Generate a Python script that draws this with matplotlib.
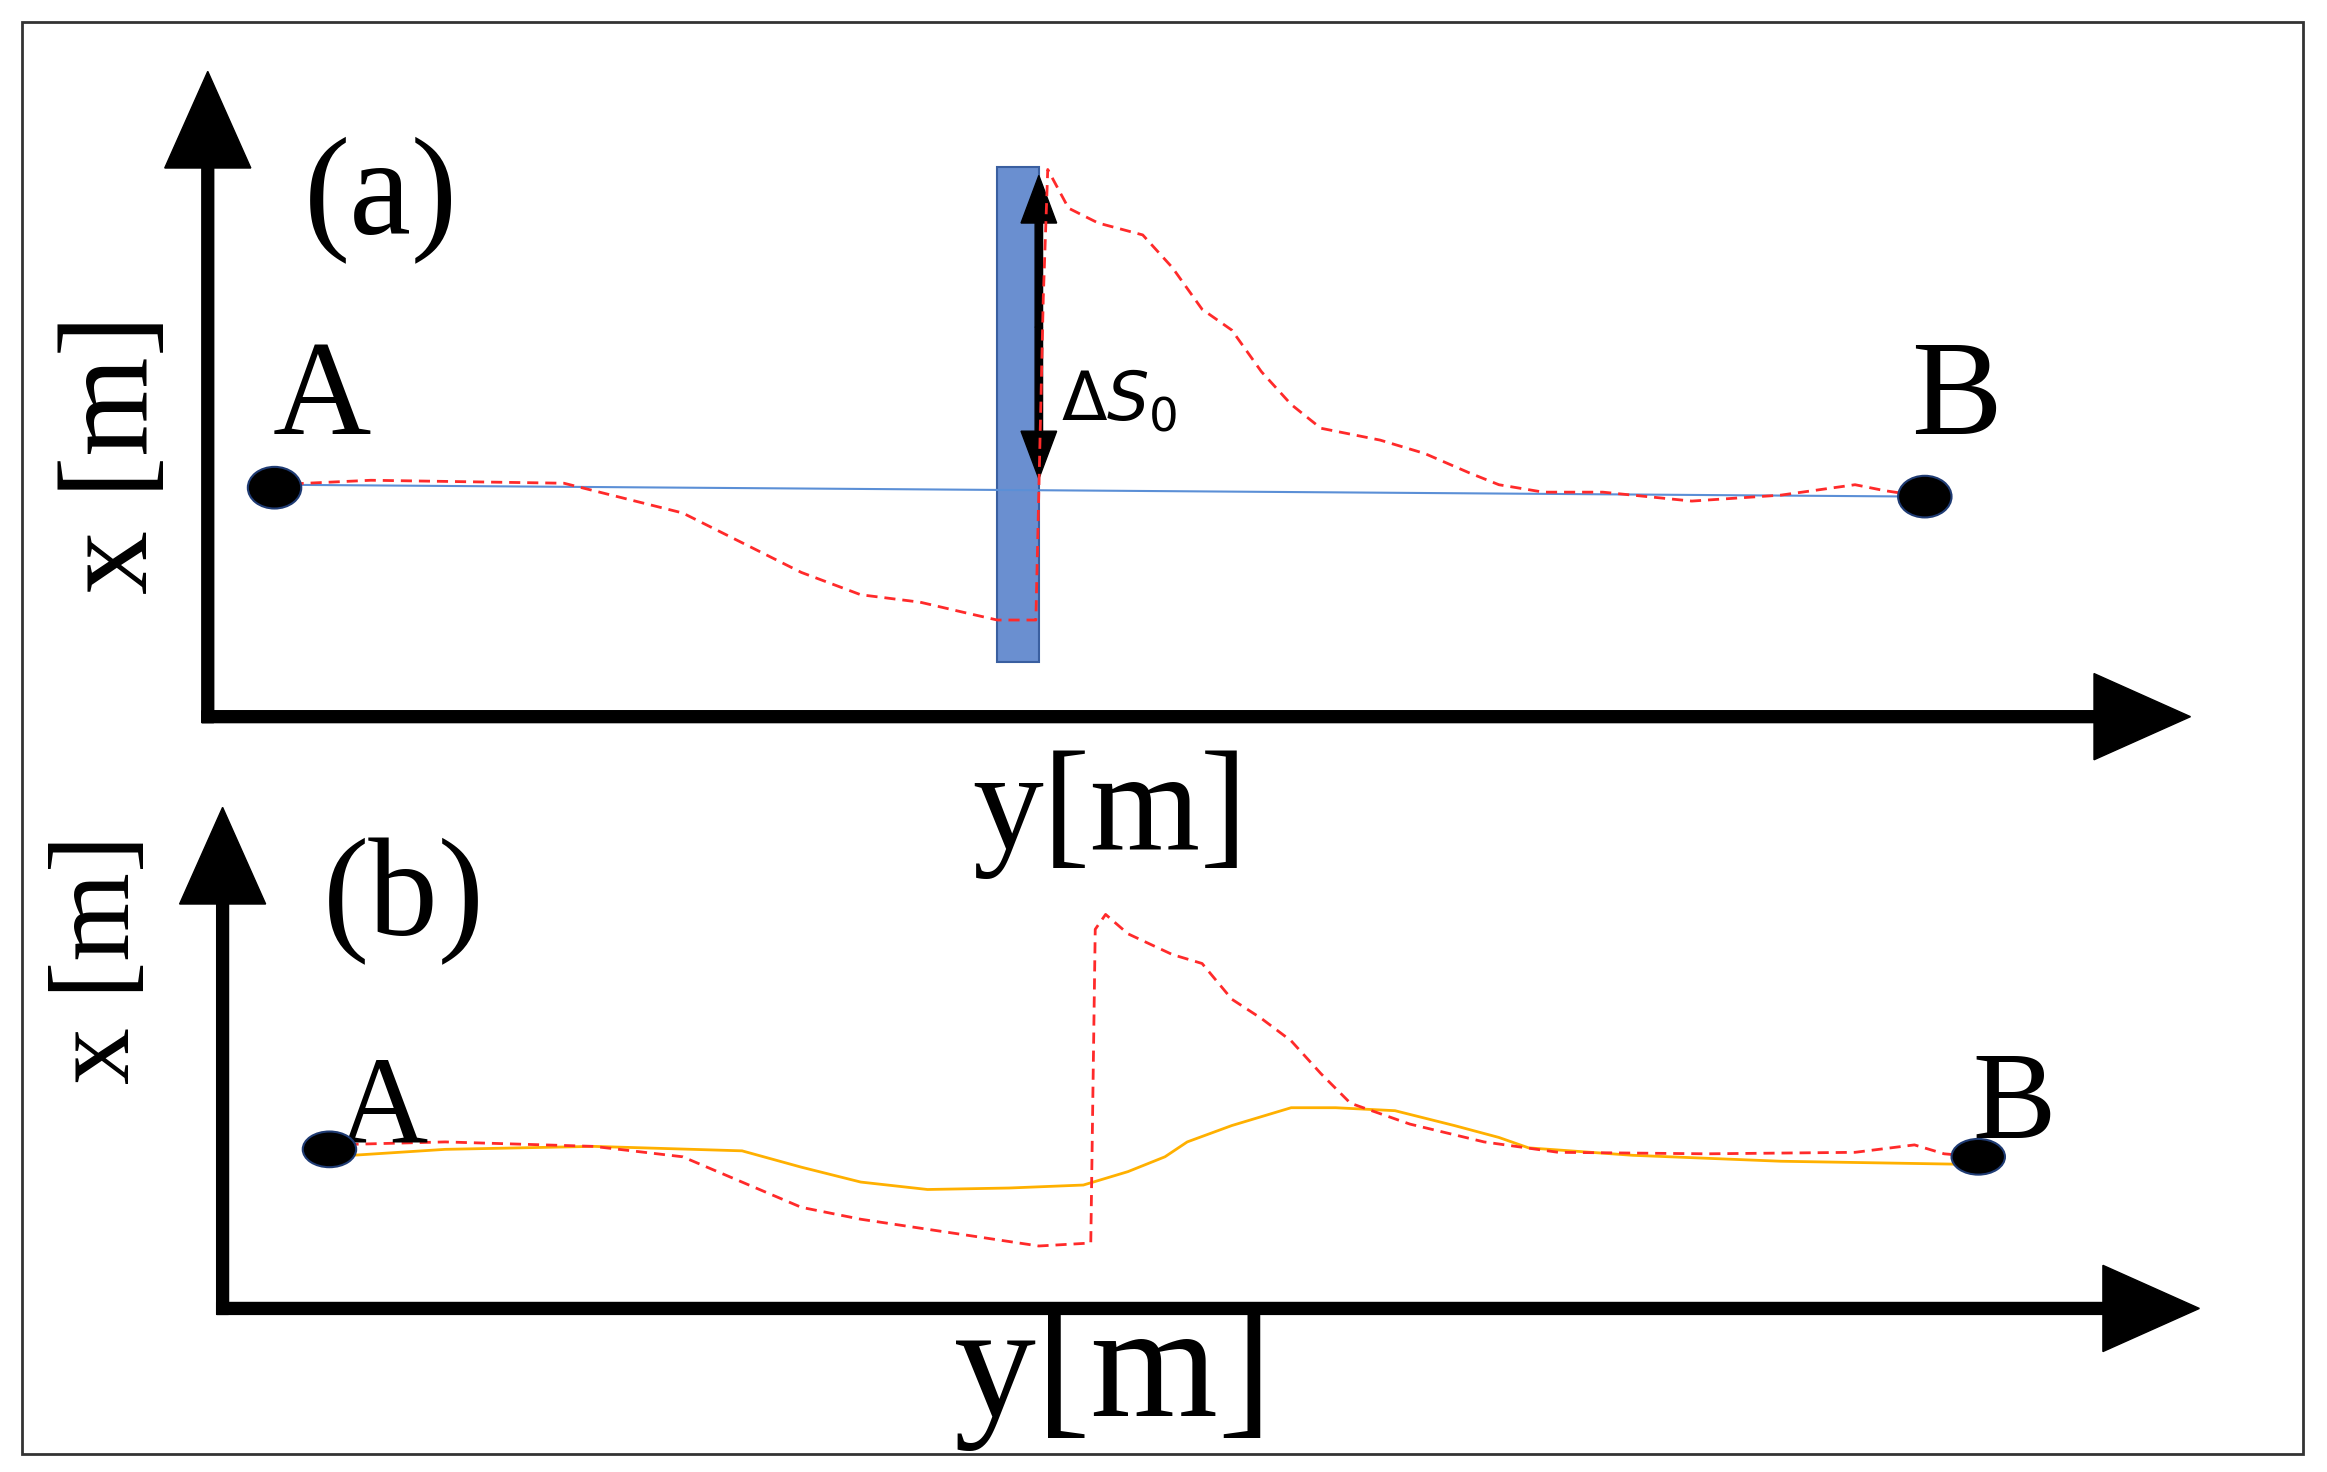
import matplotlib.pyplot as plt
from matplotlib.patches import Rectangle, Ellipse

# curves in sketch coordinates (x right, y down), width 1568, height 990
red_a_x = [185, 250, 380, 420, 460, 500, 540, 580, 620, 650, 672, 698, 700, 703, 706, 720, 740, 770, 790, 810, 830, 850, 870, 890, 930, 960, 990, 1010, 1040, 1080, 1140, 1200, 1250, 1270, 1297]
red_a_y = [326, 323, 325, 335, 345, 365, 385, 400, 405, 412, 417, 417, 330, 200, 114, 140, 150, 158, 180, 208, 222, 250, 272, 288, 296, 305, 318, 326, 331, 331, 337, 333, 326, 330, 334]
red_b_x = [222, 300, 400, 460, 500, 540, 580, 620, 660, 700, 735, 738, 745, 760, 790, 810, 830, 850, 870, 890, 910, 950, 1000, 1050, 1150, 1250, 1290, 1310, 1333]
red_b_y = [770, 768, 771, 778, 795, 812, 820, 826, 832, 838, 836, 625, 615, 628, 642, 648, 672, 685, 700, 722, 742, 756, 768, 775, 776, 775, 770, 776, 778]
orange_b_x = [222, 300, 400, 500, 540, 580, 625, 680, 730, 760, 785, 800, 830, 870, 900, 940, 980, 1010, 1030, 1100, 1200, 1320]
orange_b_y = [778, 773, 771, 774, 785, 795, 800, 799, 797, 788, 778, 768, 757, 745, 745, 747, 757, 765, 772, 777, 781, 783]

fig = plt.figure(figsize=(23.27, 14.72), dpi=100)
ax = fig.add_axes([0, 0, 1, 1])
ax.set_xlim(0, 1568)
ax.set_ylim(990, 0)
ax.axis("off")

serif = "Liberation Serif"
ax.add_patch(Rectangle((15, 15), 1537, 963, fill=False, lw=2, ec="#333333"))


def axes_arrows(x0, y0, ytop, xend):
    kw = dict(width=8, head_width=58, head_length=65, length_includes_head=True,
              fc="black", ec="black")
    ax.arrow(x0, y0 + 4, 0, ytop - y0 - 4, **kw)
    ax.arrow(x0 - 4, y0, xend - x0 + 4, 0, **kw)


# panel (a)
axes_arrows(140, 482, 48, 1476)
ax.plot([185, 1297], [326, 334], color="#5b8fd6", lw=1.5)
ax.add_patch(Rectangle((672, 112), 28, 333, fc="#6a8fd0", ec="#3a5fa0", lw=1.5))
ax.plot(red_a_x, red_a_y, color="#ff2a2a", ls=(0, (4, 2.5)), lw=2)
hk = dict(width=5, head_width=24, head_length=32, length_includes_head=True, fc="black", ec="black")
ax.arrow(700, 220, 0, 118 - 220, **hk)
ax.arrow(700, 220, 0, 322 - 220, **hk)
ax.text(715, 270, r"$\Delta S_0$", fontsize=48, va="center", ha="left")
for (x, y) in [(185, 328), (1297, 334)]:
    ax.add_patch(Ellipse((x, y), 36, 28, fc="black", ec="#1f3b73", lw=1.5, zorder=5))
ax.text(257, 135, "(a)", fontsize=100, family=serif, ha="center", va="center")
ax.text(217, 270, "A", fontsize=98, family=serif, ha="center", va="center")
ax.text(1318, 270, "B", fontsize=98, family=serif, ha="center", va="center")
ax.text(78, 305, "x [m]", fontsize=92, family=serif, rotation=90, ha="center", va="center")
ax.text(748, 548, "y[m]", fontsize=102, family=serif, ha="center", va="center")

# panel (b)
axes_arrows(150, 880, 543, 1482)
ax.plot(orange_b_x, orange_b_y, color="#ffb000", lw=2)
ax.plot(red_b_x, red_b_y, color="#ff2a2a", ls=(0, (4, 2.5)), lw=2)
for (x, y) in [(222, 773), (1333, 778)]:
    ax.add_patch(Ellipse((x, y), 36, 24, fc="black", ec="#1f3b73", lw=1.5, zorder=5))
ax.text(272, 606, "(b)", fontsize=100, family=serif, ha="center", va="center")
ax.text(258, 748, "A", fontsize=90, family=serif, ha="center", va="center")
ax.text(1357, 745, "B", fontsize=90, family=serif, ha="center", va="center")
ax.text(68, 645, "x [m]", fontsize=82, family=serif, rotation=90, ha="center", va="center")
ax.text(750, 926, "y[m]", fontsize=118, family=serif, ha="center", va="center")

fig.savefig("out.png", dpi=100)
